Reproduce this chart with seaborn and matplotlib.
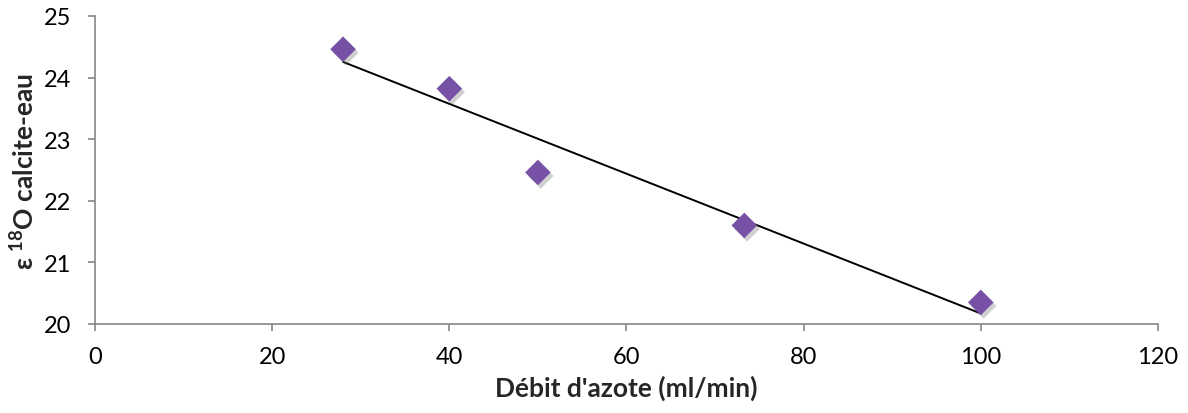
import numpy as np
import pandas as pd
import matplotlib
matplotlib.use("Agg")
import matplotlib.pyplot as plt
import matplotlib.patheffects as pe
import seaborn as sns

# Data
debit = [28, 40, 50, 73.3, 100]
epsilon = [24.46, 23.82, 22.46, 21.60, 20.35]
x_ticks = [0, 20, 40, 60, 80, 100, 120]
y_ticks = [20, 21, 22, 23, 24, 25]

df = pd.DataFrame({"debit": debit, "eps": epsilon})

sns.set_theme(style="white")
plt.rcParams["font.family"] = ["Lato", "DejaVu Sans"]
plt.rcParams["mathtext.fontset"] = "custom"
plt.rcParams["mathtext.bf"] = "Lato:bold"
plt.rcParams["mathtext.rm"] = "Lato"

fig = plt.figure(figsize=(11.88, 4.14), dpi=100)
ax = fig.add_axes([0.08, 0.215, 0.8947, 0.744])

sns.regplot(data=df, x="debit", y="eps", scatter=False, ci=None, truncate=True,
            line_kws={"color": "black", "lw": 1.4}, ax=ax)
sns.scatterplot(data=df, x="debit", y="eps", marker="D", s=170, color="#7651A5",
                edgecolor="none", ax=ax, zorder=3)
coll = ax.collections[-1]
coll.set_path_effects([pe.SimplePatchShadow(offset=(2, -2.5), shadow_rgbFace="#666666", alpha=0.3),
                       pe.Normal()])

ax.set_xlim(0, 120)
ax.set_ylim(20, 25)
ax.set_xticks(x_ticks)
ax.set_yticks(y_ticks)
ax.tick_params(axis="both", which="major", direction="out", length=5, width=1.2,
               color="#868686", labelsize=17, labelcolor="black",
               bottom=True, left=True)
ax.tick_params(axis="y", pad=12)
ax.tick_params(axis="x", pad=11)
for s in ["top", "right"]:
    ax.spines[s].set_visible(False)
for s in ["left", "bottom"]:
    ax.spines[s].set_color("#868686")
    ax.spines[s].set_linewidth(1.2)

ax.set_xlabel("Débit d'azote (ml/min)", fontsize=19, fontweight="bold", labelpad=5)
ax.set_ylabel(r"ε $\mathbf{^{18}}$O calcite-eau", fontsize=19, fontweight="bold", labelpad=4)

fig.savefig("out.png", dpi=100)
